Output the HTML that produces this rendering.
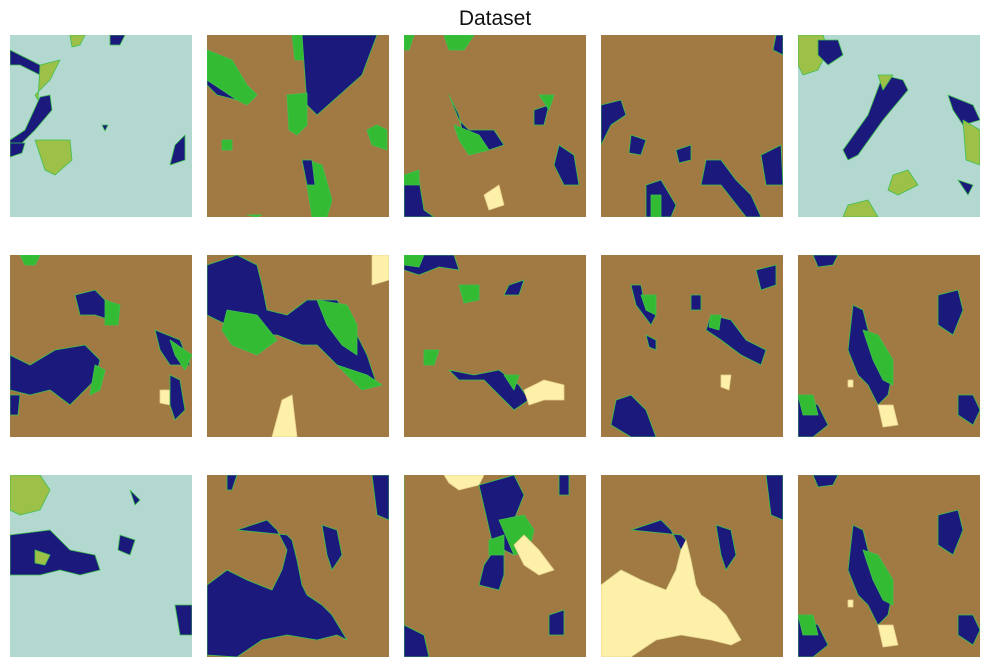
<!DOCTYPE html>
<html><head><meta charset="utf-8"><style>
body{margin:0;background:#fff;width:990px;height:667px;overflow:hidden}
svg{display:block}
</style></head><body>
<svg width="990" height="667">
<text x="495" y="25" text-anchor="middle" font-family="Liberation Sans, DejaVu Sans, sans-serif" font-size="21" fill="#111">Dataset</text>
<defs>
<clipPath id="c"><rect width="182" height="182"/></clipPath>
</defs>
<g id="grid"></g>
</svg>
<script>
const B='#a07a42',L='#b2d8cf',N='#1b1a7c',G='#33bb33',C='#fdf0a8',Y='#9cc048';
const cols=[10,207,404,601,798], rows=[35,255,475];
// panel definitions: background + shapes [color, points]
const panels=[
[L,[[N,'0,15 30,30 40,45 30,40 10,30 0,30'],[Y,'30,30 50,25 40,45 25,60 28,65'],[N,'30,62 40,60 42,75 25,95 10,110 0,115 0,105 15,95'],[Y,'25,105 60,105 62,125 45,140 35,135'],[N,'0,108 15,108 12,118 0,122'],[N,'165,110 175,100 175,125 160,130'],[Y,'60,0 75,0 70,10 62,12'],[N,'100,0 115,0 110,10 100,10'],[N,'92,90 98,90 95,96']]],
[B,[[G,'85,0 105,0 100,25 88,25'],[N,'95,0 170,0 155,40 110,80 100,70'],[G,'80,60 100,58 100,90 90,100 82,95'],[N,'0,25 15,40 25,55 30,65 10,60 0,50'],[G,'0,15 25,25 40,50 50,60 40,70 30,65 15,55 0,45'],[G,'170,90 180,95 180,115 165,110 160,95'],[G,'100,125 115,130 125,165 120,182 105,182 100,150'],[N,'95,125 105,125 108,150 100,150'],[G,'40,180 55,180 50,182'],[G,'15,105 25,105 25,115 15,115']]],
[B,[[G,'40,0 70,0 60,15 45,15'],[G,'0,0 10,0 5,15 0,15'],[N,'45,60 55,85 65,95 90,95 100,110 85,115 60,105 55,80'],[G,'50,90 75,100 85,115 65,120 55,105'],[N,'0,150 15,145 20,175 30,182 0,182'],[G,'0,140 15,135 15,150 0,150'],[C,'80,160 95,150 100,170 85,175'],[N,'155,110 170,120 175,150 160,150 150,130'],[N,'130,75 145,70 140,90 130,90'],[G,'135,60 150,60 145,75']]],
[B,[[N,'0,70 20,65 25,80 10,90 0,110'],[N,'30,100 45,105 40,120 28,118'],[N,'45,150 60,145 75,170 70,182 45,182'],[G,'50,160 60,160 60,182 50,182'],[N,'75,115 90,110 90,125 78,128'],[N,'105,125 120,125 135,145 150,160 160,182 145,182 120,150 100,150'],[N,'160,120 180,110 182,150 165,150'],[N,'175,0 182,0 182,20 172,15']]],
[L,[[Y,'0,0 25,0 30,15 20,35 5,40 0,30'],[N,'20,5 40,5 45,20 30,30 20,20'],[N,'85,40 105,45 110,55 85,85 60,120 50,125 45,115 70,80'],[Y,'80,40 95,40 85,55'],[N,'150,60 175,70 182,85 165,90 155,75'],[Y,'165,85 182,95 182,130 168,125'],[Y,'95,140 110,135 120,150 100,160 90,155'],[Y,'50,170 70,165 80,182 45,182'],[N,'160,145 175,150 170,160']]],
[B,[[G,'10,0 30,0 25,10 15,10'],[N,'65,40 85,35 95,45 105,50 100,65 85,60 70,60'],[G,'95,45 110,50 108,70 95,70'],[N,'0,100 20,110 45,95 75,90 90,105 85,125 70,140 60,150 40,135 20,140 0,135'],[G,'85,110 95,115 90,135 80,140'],[N,'145,75 170,85 180,110 160,110 150,95'],[G,'160,85 182,100 175,115 165,100'],[C,'150,135 160,135 160,150 150,148'],[N,'160,120 170,125 175,155 165,165 160,150'],[N,'0,140 10,140 8,160 0,160']]],
[B,[[N,'0,10 30,0 50,10 55,30 60,55 80,60 100,45 130,45 140,60 150,80 160,100 170,130 150,120 130,110 110,90 95,90 70,80 40,80 20,70 0,60'],[G,'20,55 50,60 70,85 50,100 25,90 15,75'],[G,'110,45 140,50 150,70 150,100 135,90 120,70'],[C,'165,0 182,0 182,25 165,30'],[C,'65,182 75,145 85,140 90,182'],[G,'130,110 160,120 175,130 155,135']]],
[B,[[N,'0,0 50,0 55,15 35,12 15,20 0,15'],[G,'0,0 20,0 15,12 0,10'],[G,'55,30 75,30 75,45 60,48'],[N,'105,30 120,25 115,40 100,40'],[N,'45,115 70,120 95,115 115,130 125,145 110,155 95,140 80,125 55,125'],[G,'20,95 35,95 30,110 20,110'],[C,'120,135 140,125 160,130 160,145 140,145 125,150'],[G,'100,120 115,120 110,135']]],
[B,[[N,'30,30 40,30 45,55 55,60 50,70 35,50'],[G,'40,40 55,40 55,60 45,55'],[N,'90,40 100,40 100,55 90,55'],[N,'110,60 130,65 145,85 165,95 160,110 140,100 120,85 105,75'],[G,'110,60 120,60 118,75 108,72'],[N,'155,15 175,10 175,30 160,35'],[N,'15,145 30,140 45,155 55,182 30,182 10,170'],[C,'120,120 130,120 128,135 120,132'],[N,'45,80 55,85 55,95 48,92']]],
[B,[[N,'15,0 40,0 35,10 20,12'],[N,'55,50 65,55 70,75 75,95 80,110 95,115 90,140 80,150 70,130 60,120 50,95'],[G,'65,75 80,80 95,105 95,130 85,125 75,105'],[N,'140,40 160,35 165,55 155,80 140,70'],[N,'0,140 20,150 30,170 15,182 0,182'],[G,'0,140 15,140 20,160 5,160'],[C,'80,150 95,150 100,170 85,172'],[C,'50,125 55,125 55,132 50,132'],[N,'160,140 175,140 182,155 175,170 160,160']]],
[L,[[Y,'0,0 30,0 40,15 30,35 10,40 0,35'],[N,'0,60 40,55 60,75 85,80 90,95 70,100 50,95 30,100 0,100'],[N,'110,60 125,65 120,80 108,75'],[N,'165,130 182,130 182,160 170,160'],[Y,'25,75 40,80 35,90 25,88'],[N,'120,15 130,25 125,30']]],
[B,[[N,'30,55 60,45 70,55 80,75 75,95 65,115 40,105 20,95 0,110 0,180 30,182 55,165 80,160 110,165 130,160 140,165 125,140 115,130 100,120 95,110 90,85 85,65 80,60'],[N,'165,0 182,0 182,45 170,40'],[N,'115,50 130,55 135,80 125,95 120,80'],[N,'20,0 30,0 25,15 20,15']]],
[B,[[N,'0,182 0,0 0,0'],[C,'40,0 80,0 75,10 55,15 45,8'],[N,'75,10 110,0 120,20 110,45 120,70 110,80 100,75 100,100 95,115 75,110 80,90 90,75'],[G,'95,45 120,40 130,55 125,75 110,80'],[C,'110,70 120,60 135,75 150,95 135,100 120,90'],[N,'0,150 20,160 25,182 0,182'],[N,'155,0 165,0 165,20 155,20'],[N,'145,140 160,135 160,160 145,160'],[G,'85,65 100,60 100,80 85,80']]],
[B,[[N,'30,55 60,45 70,55 80,75 75,95 65,115 40,105 20,95 0,110 0,182 30,182 55,165 80,160 110,165 130,160 140,165 125,140 115,130 100,120 95,110 90,85 85,65 80,60'],[C,'0,110 20,95 40,105 65,115 75,95 80,75 85,65 90,85 95,110 100,120 115,130 125,140 140,165 130,170 110,165 80,160 55,165 30,182 0,182'],[N,'165,0 182,0 182,45 170,40'],[N,'115,50 130,55 135,80 125,95 120,80']]],
[B,[[N,'15,0 40,0 35,10 20,12'],[N,'55,50 65,55 70,75 75,95 80,110 95,115 90,140 80,150 70,130 60,120 50,95'],[G,'65,75 80,80 95,105 95,130 85,125 75,105'],[N,'140,40 160,35 165,55 155,80 140,70'],[N,'0,140 20,150 30,170 15,182 0,182'],[G,'0,140 15,140 20,160 5,160'],[C,'80,150 95,150 100,170 85,172'],[C,'50,125 55,125 55,132 50,132'],[N,'160,140 175,140 182,155 175,170 160,160']]]
];
const svgNS='http://www.w3.org/2000/svg', grid=document.getElementById('grid');
panels.forEach((p,i)=>{
  const g=document.createElementNS(svgNS,'g');
  g.setAttribute('transform',`translate(${cols[i%5]},${rows[Math.floor(i/5)]})`);
  g.setAttribute('clip-path','url(#c)');
  
  
  const r=document.createElementNS(svgNS,'rect');
  r.setAttribute('width',182);r.setAttribute('height',182);r.setAttribute('fill',p[0]);
  g.appendChild(r);
  p[1].forEach(s=>{
    const pg=document.createElementNS(svgNS,'polygon');
    pg.setAttribute('points',s[1]);pg.setAttribute('fill',s[0]);
    if(s[0]!==p[0]){pg.setAttribute('stroke',s[0]===C?'#e8d090':'#3fc04f');pg.setAttribute('stroke-width','0.8');pg.setAttribute('stroke-linejoin','round');}
    g.appendChild(pg);
  });
  grid.appendChild(g);
});
</script>
</body></html>
